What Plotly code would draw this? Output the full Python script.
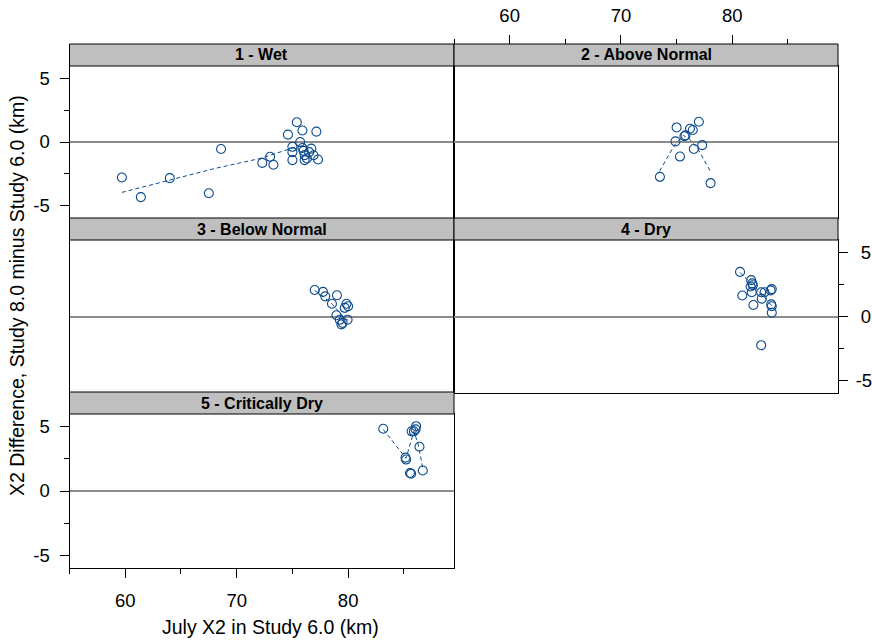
import plotly.graph_objects as go

# ---------------- data ----------------
panel_names = ["1 - Wet", "2 - Above Normal", "3 - Below Normal", "4 - Dry", "5 - Critically Dry"]

wet_x = [59.7, 61.4, 64.0, 67.5, 68.6, 72.3, 73.0, 73.3, 74.6, 75.4, 75.9, 77.15,
         75.0, 75.0, 75.0, 75.7, 75.9, 76.0, 76.1, 76.3, 76.7, 76.5, 76.9, 77.3, 76.1]
wet_y = [-2.8, -4.35, -2.85, -4.05, -0.55, -1.65, -1.17, -1.8, 0.58, 1.56, 0.91, 0.82,
         -0.38, -0.8, -1.43, 0.0, -0.47, -0.7, -1.04, -1.3, -0.52, -0.8, -1.05, -1.38, -1.43]
wet_fit_x = [59.7, 64.0, 68.0, 72.1, 75.1, 76.2]
wet_fit_y = [-3.98, -2.98, -2.1, -1.3, -0.45, -0.25]

an_x = [73.5, 75.0, 74.9, 75.3, 75.7, 75.8, 76.2, 76.45, 77.0, 76.55, 77.3, 78.05]
an_y = [-2.75, 1.15, 0.05, -1.15, 0.45, 0.52, 1.05, 0.95, 1.6, -0.55, -0.25, -3.25]
an_fit_x = [73.47, 74.2, 74.8, 75.6, 76.2, 76.9, 77.66, 78.05]
an_fit_y = [-2.3, -1.17, -0.26, 0.52, 0.2, -0.52, -1.69, -2.34]

bn_x = [77.0, 77.75, 77.95, 79.0, 78.55, 79.85, 79.7, 80.0, 78.95, 79.25, 79.4, 79.5, 79.95]
bn_y = [2.08, 1.93, 1.58, 1.67, 1.0, 1.0, 0.68, 0.8, 0.1, -0.26, -0.62, -0.5, -0.25]
bn_fit_x = [77.0, 77.8, 78.6, 79.2, 79.7, 80.0]
bn_fit_y = [2.05, 1.55, 0.95, 0.35, -0.15, -0.3]

dry_x = [80.7, 81.7, 81.8, 81.65, 81.85, 80.9, 81.75, 81.9, 82.6, 82.9, 82.65,
         83.45, 83.55, 83.5, 83.55, 83.55, 82.6]
dry_y = [3.5, 2.85, 2.6, 2.35, 2.45, 1.65, 1.9, 0.9, 1.9, 1.9, 1.4,
         2.05, 2.15, 0.95, 0.8, 0.3, -2.25]
dry_fit_x = [80.7, 81.3, 81.9, 82.6, 83.1, 83.55]
dry_fit_y = [3.45, 2.95, 2.45, 1.8, 1.3, 0.85]

cd_x = [83.15, 85.15, 85.2, 85.55, 85.65, 85.7, 86.05, 86.1, 85.9, 86.4, 86.7]
cd_y = [4.85, 2.6, 2.45, 1.4, 1.35, 4.65, 4.8, 5.05, 4.65, 3.45, 1.6]
cd_fit_x = [83.15, 85.2, 85.9, 86.3, 86.7]
cd_fit_y = [4.8, 2.55, 4.65, 3.6, 1.75]

x_tickvals = [60, 70, 80]
x_ticktext = ["60", "70", "80"]
y_tickvals = [-5, 0, 5]
y_ticktext_left = ["-5", "0", "5"]
y_ticktext_right = ["-5", "\u20080", "\u20085"]

x_title = "July X2 in Study 6.0 (km)"
y_title = "X2 Difference, Study 8.0 minus Study 6.0 (km)"

# ---------------- layout geometry ----------------
W, H = 872, 641
def px(x): return x / W
def py(y): return 1 - y / H

COLS = [(69.5, 454.0), (454.0, 838.0)]
ROWS = [(66.0, 218.0), (240.0, 393.0), (414.0, 568.0)]
STRIP = 22.0
XR = [55, 89.5]
YR = [-6, 6]
BLUE = "#0b4a8f"
FONT = "Liberation Sans, Arial, Helvetica, sans-serif"

series = [
    (wet_x, wet_y, wet_fit_x, wet_fit_y, 0, 0),
    (an_x, an_y, an_fit_x, an_fit_y, 1, 0),
    (bn_x, bn_y, bn_fit_x, bn_fit_y, 0, 1),
    (dry_x, dry_y, dry_fit_x, dry_fit_y, 1, 1),
    (cd_x, cd_y, cd_fit_x, cd_fit_y, 0, 2),
]

fig = go.Figure()
shapes = []
annotations = []

tick_common = dict(ticks="outside", ticklen=9, tickwidth=1, tickcolor="black",
                   showticklabels=True, tickfont=dict(size=18.5, color="black", family=FONT))
x_minor = dict(ticks="outside", ticklen=5, tick0=55, dtick=5, tickcolor="black", tickwidth=1)
y_minor = dict(ticks="outside", ticklen=5, tick0=0, dtick=2.5, tickcolor="black", tickwidth=1)

for i, (xs, ys, fx, fy, c, r) in enumerate(series, start=1):
    xa = "x" if i == 1 else f"x{i}"
    ya = "y" if i == 1 else f"y{i}"
    fig.add_trace(go.Scatter(x=fx, y=fy, mode="lines", xaxis=xa, yaxis=ya,
                             line=dict(color=BLUE, width=1, dash="4px,3px"),
                             hoverinfo="skip", showlegend=False))
    fig.add_trace(go.Scatter(x=xs, y=ys, mode="markers", xaxis=xa, yaxis=ya,
                             marker=dict(symbol="circle-open", size=9, color=BLUE,
                                         line=dict(width=1.1, color=BLUE)),
                             showlegend=False))
    x0, x1 = COLS[c]
    y0, y1 = ROWS[r]
    xax = dict(domain=[px(x0), px(x1)], range=XR, anchor=ya, showline=True,
               linecolor="black", linewidth=1, mirror=True, showgrid=False,
               zeroline=False, ticks="", showticklabels=False, automargin=False)
    yax = dict(domain=[py(y1), py(y0)], range=YR, anchor=xa, showline=True,
               linecolor="black", linewidth=1, mirror=True, showgrid=False,
               zeroline=True, zerolinecolor="#8c8c8c", zerolinewidth=2,
               ticks="", showticklabels=False, automargin=False)
    if i == 5:
        xax.update(tick_common, tickmode="array", tickvals=x_tickvals, ticktext=x_ticktext,
                   side="bottom", ticklabelstandoff=7, minor=x_minor)
    if i in (1, 5):
        yax.update(tick_common, tickmode="array", tickvals=y_tickvals, ticktext=y_ticktext_left,
                   side="left", ticklabelstandoff=6, minor=y_minor)
    if i == 4:
        yax.update(tick_common, tickmode="array", tickvals=y_tickvals, ticktext=y_ticktext_right,
                   side="right", ticklabelstandoff=4, minor=y_minor)
    fig.update_layout({("xaxis" if i == 1 else f"xaxis{i}"): xax,
                       ("yaxis" if i == 1 else f"yaxis{i}"): yax})
    # strip
    shapes.append(dict(type="rect", xref="paper", yref="paper",
                       x0=px(x0), x1=px(x1), y0=py(y0), y1=py(y0 - STRIP),
                       fillcolor="#bfbfbf", line=dict(color="black", width=1)))
    annotations.append(dict(text="<b>" + panel_names[i - 1] + "</b>", xref="paper", yref="paper",
                            x=px((x0 + x1) / 2), y=py(y0 - STRIP / 2), showarrow=False,
                            xanchor="center", yanchor="middle",
                            font=dict(size=16, color="black", family=FONT)))

# top axis for panel 2 (above its strip)
fig.add_trace(go.Scatter(x=[None], y=[None], xaxis="x6", yaxis="y2", mode="markers",
                         showlegend=False, hoverinfo="skip"))
top = dict(domain=[px(COLS[1][0]), px(COLS[1][1])], range=XR, overlaying="x2",
           anchor="free", position=py(ROWS[0][0] - STRIP), side="top",
           showline=False, showgrid=False, zeroline=False, automargin=False,
           tickmode="array", tickvals=x_tickvals, ticktext=x_ticktext,
           ticklabelstandoff=6, minor=x_minor)
top.update(tick_common)
fig.update_layout(xaxis6=top)

annotations.append(dict(text=x_title, xref="paper", yref="paper", x=px(270), y=py(627),
                        showarrow=False, xanchor="center", yanchor="middle",
                        font=dict(size=19.5, color="black", family=FONT)))
annotations.append(dict(text=y_title, xref="paper", yref="paper", x=px(17), y=py(296),
                        showarrow=False, xanchor="center", yanchor="middle", textangle=-90,
                        font=dict(size=19.5, color="black", family=FONT)))

fig.update_layout(width=W, height=H, margin=dict(l=0, r=0, t=0, b=0, autoexpand=False),
                  paper_bgcolor="white", plot_bgcolor="white",
                  shapes=shapes, annotations=annotations, showlegend=False,
                  font=dict(family=FONT, color="black"))

fig.write_html("out.html", config={"displayModeBar": False},
               post_script="document.documentElement.style.margin='0';"
                           "document.documentElement.style.overflow='hidden';"
                           "document.body.style.margin='0';"
                           "document.body.style.overflow='hidden';")
